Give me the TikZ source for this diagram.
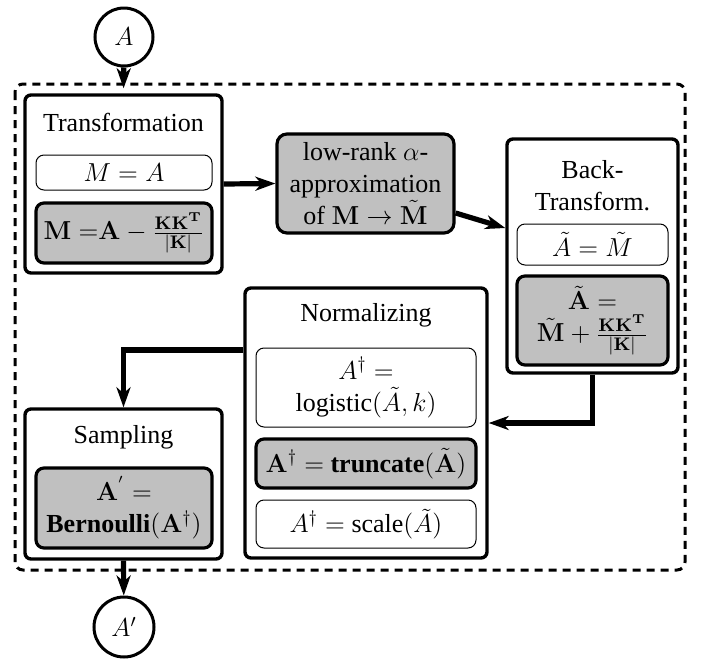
\RequirePackage{fix-cm}
\documentclass[tikz,border=0pt]{standalone}
\usepackage[no-math]{fontspec}
\setmainfont{Liberation Serif}
\usetikzlibrary{arrows.meta,calc}
\definecolor{boxgray}{RGB}{192,192,192}
\begin{document}
\begin{tikzpicture}[x=0.5pt,y=-0.5pt,
  every node/.style={font=\fontsize{13}{16}\selectfont, inner sep=0pt, align=center},
  stage/.style={draw, line width=1.7pt, rounded corners=3pt, fill=white},
  option/.style={draw, line width=0.5pt, rounded corners=4pt, fill=white},
  chosen/.style={draw, line width=1.6pt, rounded corners=4pt, fill=boxgray},
  io/.style={draw, circle, line width=1.5pt, minimum size=29pt, fill=white},
  flow/.style={line width=2.6pt, -{Stealth[length=10pt,width=7pt,inset=3pt]}},
  frame/.style={draw, line width=1.5pt, dash pattern=on 4pt off 3pt, rounded corners=4pt}]
\useasboundingbox (0,0) rectangle (709,660);

% outer frame of the pipeline
\draw[frame] (15,84) rectangle (685,570);

% input / output
\node[io] (in) at (124,37) {$A$};
\node[io, minimum size=30pt] (out) at (124,627) {$A'$};

% Transformation stage
\node[stage, minimum width=98.5pt, minimum height=89pt] (trans) at (123.5,184) {};
\node (transT) at (123.5,122) {Transformation};
\node[option, minimum width=88pt, minimum height=17.5pt] (mA) at (124,172.5) {$M = A$};
\node[chosen, minimum width=88pt, minimum height=30pt] (mK) at (124,233)
  {$\mathbf{M}\;{=}\mathbf{A} - \frac{\mathbf{KK^T}}{|\mathbf{K}|}$};

% low-rank approximation
\node[chosen, rounded corners=5pt, minimum width=88.5pt, minimum height=49.5pt] (lr) at (365.5,183.5)
  {low-rank $\alpha$-\\approximation\\of $\mathbf{M} \rightarrow \tilde{\mathbf{M}}$};

% Back-transformation stage
\node[stage, minimum width=85.5pt, minimum height=117pt] (back) at (592.5,256) {};
\node (backT) at (592.5,186) {Back-\\Transform.};
\node[option, minimum width=75.5pt, minimum height=20.5pt] (bA) at (592.5,244.5) {$\tilde{A} = \tilde{M}$};
\node[chosen, minimum width=75.5pt, minimum height=44.5pt] (bK) at (592.5,320.5)
  {$\tilde{\mathbf{A}} =$\\$\tilde{\mathbf{M}} + \frac{\mathbf{KK^T}}{|\mathbf{K}|}$};

% Normalizing stage
\node[stage, minimum width=121pt, minimum height=135pt] (norm) at (366,423) {};
\node (normT) at (366,315) {Normalizing};
\node[option, minimum width=110pt, minimum height=39.5pt] (nL) at (366,387.5)
  {$A^{\dagger} =$\\logistic$(\tilde{A},k)$};
\node[chosen, minimum width=110pt, minimum height=24.5pt] (nT) at (366,463.5)
  {$\mathbf{A}^{\dagger} =$ \textbf{truncate}$(\tilde{\mathbf{A}})$};
\node[option, minimum width=110pt, minimum height=24pt] (nS) at (366,524)
  {$A^{\dagger} =$ scale$(\tilde{A})$};

% Sampling stage
\node[stage, minimum width=98.5pt, minimum height=75pt] (samp) at (123.5,484) {};
\node (sampT) at (123.5,437) {Sampling};
\node[chosen, minimum width=88pt, minimum height=40pt] (sB) at (124,508)
  {$\mathbf{A}^{'} =$\\\textbf{Bernoulli}$(\mathbf{A}^{\dagger})$};

% connections
\draw[flow, shorten >=2.5pt] (in) -- (trans.north);
\draw[flow] (trans.east) -- (lr.west);
\draw[flow] ([yshift=-14.75pt]lr.east) -- ([yshift=14pt]back.west);
\draw[flow] (back.south) |- (norm.east);
\draw[flow] ([yshift=36.5pt]norm.west) -| (samp.north);
\draw[flow] (samp.south) -- (out);
\end{tikzpicture}
\end{document}
